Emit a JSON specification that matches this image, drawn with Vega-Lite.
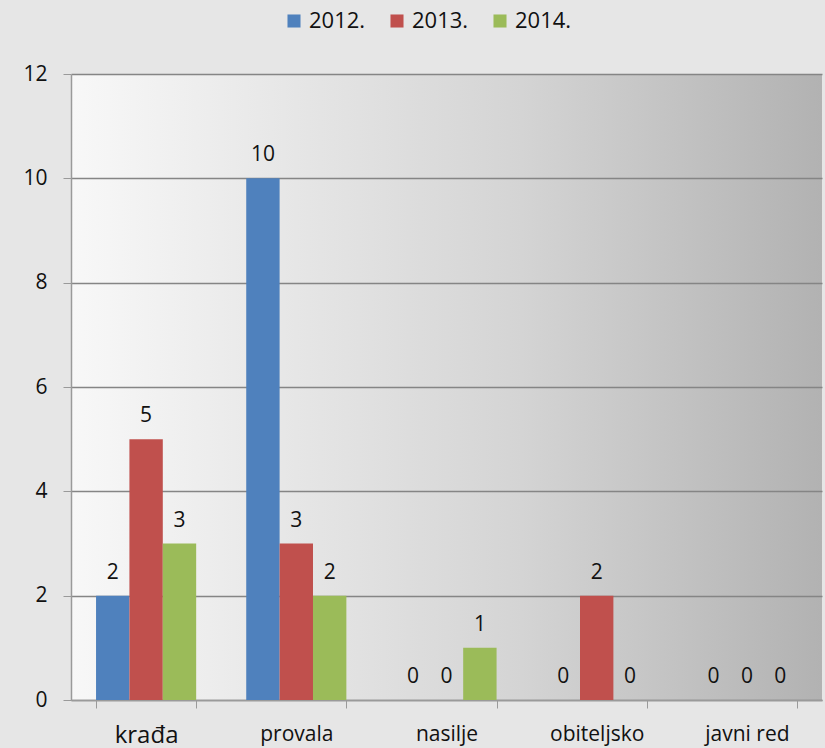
{
  "$schema": "https://vega.github.io/schema/vega-lite/v6.json",
  "width": 751,
  "height": 626,
  "autosize": {"type": "none"},
  "padding": {"left": 71, "top": 74, "right": 3, "bottom": 48},
  "background": "#e6e6e6",
  "config": {
    "font": "Open Sans",
    "view": {"stroke": null, "fill": {"gradient": "linear", "x1": 0, "y1": 0, "x2": 1, "y2": 0, "stops": [{"offset": 0, "color": "#f8f8f8"}, {"offset": 0.6, "color": "#d4d4d4"}, {"offset": 1, "color": "#b2b2b2"}]}}
  },
  "data": {"values": [
    {"kat": "krađa", "god": "2012.", "v": 2},
    {"kat": "krađa", "god": "2013.", "v": 5},
    {"kat": "krađa", "god": "2014.", "v": 3},
    {"kat": "provala", "god": "2012.", "v": 10},
    {"kat": "provala", "god": "2013.", "v": 3},
    {"kat": "provala", "god": "2014.", "v": 2},
    {"kat": "nasilje", "god": "2012.", "v": 0},
    {"kat": "nasilje", "god": "2013.", "v": 0},
    {"kat": "nasilje", "god": "2014.", "v": 1},
    {"kat": "obiteljsko", "god": "2012.", "v": 0},
    {"kat": "obiteljsko", "god": "2013.", "v": 2},
    {"kat": "obiteljsko", "god": "2014.", "v": 0},
    {"kat": "javni red", "god": "2012.", "v": 0},
    {"kat": "javni red", "god": "2013.", "v": 0},
    {"kat": "javni red", "god": "2014.", "v": 0}
  ]},
  "encoding": {
    "x": {
      "field": "kat", "type": "nominal",
      "sort": ["krađa", "provala", "nasilje", "obiteljsko", "javni red"],
      "scale": {"paddingInner": 0.3333, "paddingOuter": 0.1667},
      "axis": {
        "title": null, "labelAngle": 0, "labelFontSize": {"expr": "datum.value == 'krađa' ? 24 : 21"},
        "labelColor": "#111111", "labelPadding": 15,
        "tickBand": "extent", "tickSize": 8, "tickColor": "#9a9a9a", "domainColor": "#9a9a9a", "domainWidth": 1.5, "grid": false
      }
    },
    "xOffset": {"field": "god", "type": "nominal", "sort": ["2012.", "2013.", "2014."]},
    "y": {
      "field": "v", "type": "quantitative",
      "scale": {"domain": [0, 12], "nice": false},
      "axis": {
        "title": null, "values": [0, 2, 4, 6, 8, 10, 12], "labelFontSize": 21, "labelColor": "#111111",
        "tickSize": 8, "labelPadding": 16, "tickColor": "#9a9a9a", "domainColor": "#9a9a9a", "domainWidth": 1.5,
        "grid": true, "gridColor": "#858585", "gridWidth": 1.3
      }
    }
  },
  "layer": [
    {
      "mark": {"type": "bar"},
      "encoding": {
        "color": {
          "field": "god", "type": "nominal",
          "scale": {"domain": ["2012.", "2013.", "2014."], "range": ["#4F81BD", "#C0504D", "#9BBB59"]},
          "legend": {
            "title": null, "orient": "none", "direction": "horizontal", "legendX": 212, "legendY": -64,
            "symbolType": "square", "symbolSize": 170, "symbolStrokeWidth": 0, "symbolOpacity": 1,
            "labelFontSize": 22, "labelColor": "#111111", "columnPadding": 20, "labelOffset": 4
          }
        }
      }
    },
    {
      "mark": {"type": "text", "baseline": "bottom", "dy": -13, "fontSize": 21, "color": "#111111"},
      "encoding": {"text": {"field": "v", "type": "quantitative"}}
    }
  ]
}
